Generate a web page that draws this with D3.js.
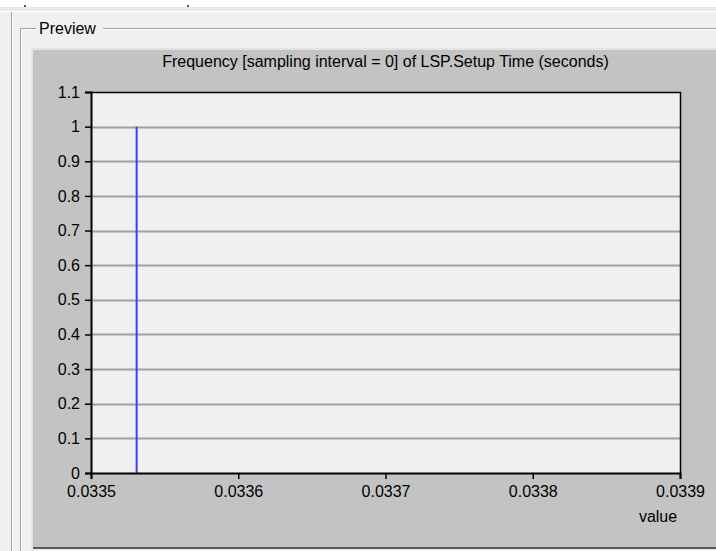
<!DOCTYPE html>
<html>
<head>
<meta charset="utf-8">
<script src="https://cdn.jsdelivr.net/npm/d3@7"></script>
<style>
  body { margin: 0; background: #f0f0f0; }
  svg { display: block; font-family: "Liberation Sans", Arial, sans-serif; }
</style>
</head>
<body>
<div id="chart"></div>
<script>
// chart values
const binValues = [0.033531];      // sampled value (seconds)
const binFrequency = [1];          // frequency of that value
const xTicks = [0.0335, 0.0336, 0.0337, 0.0338, 0.0339];
const xTickLabels = ["0.0335", "0.0336", "0.0337", "0.0338", "0.0339"];
const yTicks = [0, 0.1, 0.2, 0.3, 0.4, 0.5, 0.6, 0.7, 0.8, 0.9, 1, 1.1];
const yTickLabels = ["0", "0.1", "0.2", "0.3", "0.4", "0.5", "0.6", "0.7", "0.8", "0.9", "1", "1.1"];
const titleText = "Frequency [sampling interval = 0] of LSP.Setup Time (seconds)";

const W = 716, H = 551;
const plot = { left: 91, top: 92, right: 680, bottom: 473 };
const fontSize = "16px";

const svg = d3.select("#chart")
  .append("svg")
  .attr("width", W)
  .attr("height", H);

/* WINDOW FRAME */
svg.append("rect").attr("x", 0).attr("y", 0).attr("width", W).attr("height", 7).attr("fill", "#ffffff");
svg.append("rect").attr("x", 0).attr("y", 7).attr("width", W).attr("height", 4).attr("fill", "#e9e9e9");
svg.append("rect").attr("x", 0).attr("y", 11).attr("width", W).attr("height", 1).attr("fill", "#ffffff");

// little marks at the top edge
svg.append("rect").attr("x", 24).attr("y", 5).attr("width", 2).attr("height", 2).attr("fill", "#555");
svg.append("rect").attr("x", 187).attr("y", 5).attr("width", 2).attr("height", 2).attr("fill", "#555");

// outer panel line
svg.append("line").attr("x1", 11.5).attr("y1", 12).attr("x2", 11.5).attr("y2", H).attr("stroke", "#a0a0a0");
svg.append("line").attr("x1", 12.5).attr("y1", 12).attr("x2", 12.5).attr("y2", H).attr("stroke", "#ffffff");

// group box (etched)
svg.append("path")
  .attr("d", `M36,28.5 H20.5 V${H} M103,28.5 H${W}`)
  .attr("fill", "none").attr("stroke", "#a0a0a0");
svg.append("path")
  .attr("d", `M36,29.5 H21.5 V${H} M103,29.5 H${W}`)
  .attr("fill", "none").attr("stroke", "#ffffff");
svg.append("text")
  .attr("x", 39).attr("y", 34)
  .attr("font-size", fontSize)
  .attr("fill", "#000")
  .text("Preview");

// gray chart panel
svg.append("rect").attr("x", 31).attr("y", 48).attr("width", W - 31).attr("height", 2).attr("fill", "#e3e3e3");
svg.append("rect").attr("x", 31).attr("y", 48).attr("width", 2).attr("height", H - 48).attr("fill", "#e3e3e3");
svg.append("rect").attr("x", 33).attr("y", 50).attr("width", W - 33).attr("height", 497).attr("fill", "#c3c3c3");
svg.append("rect").attr("x", 33).attr("y", 547).attr("width", W - 33).attr("height", 2).attr("fill", "#5a5a5a");

/* SCALES */
const xScale = d3.scaleLinear()
  .domain([xTicks[0], xTicks[xTicks.length - 1]])
  .range([plot.left, plot.right]);

const yScale = d3.scaleLinear()
  .domain([0, 1.1])
  .range([plot.bottom, plot.top]);

// plot background
svg.append("rect")
  .attr("x", plot.left).attr("y", plot.top)
  .attr("width", plot.right - plot.left)
  .attr("height", plot.bottom - plot.top)
  .attr("fill", "#f0f0f0");

// horizontal grid
svg.append("g")
  .selectAll("line")
  .data(yTicks.slice(1, -1))
  .join("line")
  .attr("x1", plot.left).attr("x2", plot.right)
  .attr("y1", d => Math.round(yScale(d)) + 0.5)
  .attr("y2", d => Math.round(yScale(d)) + 0.5)
  .attr("stroke", "#a0a0a0")
  .attr("stroke-width", 2);

// top and right border
svg.append("path")
  .attr("d", `M${plot.left},${plot.top + 0.5} H${plot.right + 0.5} V${plot.bottom}`)
  .attr("fill", "none")
  .attr("stroke", "#000")
  .attr("stroke-width", 1.5);

/* BARS (frequency lines) */
svg.append("g")
  .selectAll("line")
  .data(binValues)
  .join("line")
  .attr("x1", d => xScale(d)).attr("x2", d => xScale(d))
  .attr("y1", yScale(0))
  .attr("y2", (d, i) => yScale(binFrequency[i]))
  .attr("stroke", "#3c3cff")
  .attr("stroke-width", 2);

/* AXES */
const yAxis = d3.axisLeft(yScale)
  .tickValues(yTicks)
  .tickFormat((d, i) => yTickLabels[i])
  .tickSizeOuter(0)
  .tickSize(6)
  .tickPadding(5);

const xAxis = d3.axisBottom(xScale)
  .tickValues(xTicks)
  .tickFormat((d, i) => xTickLabels[i])
  .tickSizeOuter(0)
  .tickSize(6)
  .tickPadding(7);

const gy = svg.append("g")
  .attr("transform", `translate(${plot.left},0)`)
  .call(yAxis);

const gx = svg.append("g")
  .attr("transform", `translate(0,${plot.bottom})`)
  .call(xAxis);

[gx, gy].forEach(g => {
  g.selectAll("text").attr("font-size", fontSize).attr("font-family", "Liberation Sans, Arial, sans-serif").attr("fill", "#000");
  g.select(".domain").attr("stroke", "#000").attr("stroke-width", 2);
  g.selectAll(".tick line").attr("stroke", "#000").attr("stroke-width", 1.5);
});

/* LABELS */
svg.append("text")
  .attr("x", (plot.left + plot.right) / 2)
  .attr("y", 67)
  .attr("text-anchor", "middle")
  .attr("font-size", fontSize)
  .attr("fill", "#000")
  .text(titleText);

svg.append("text")
  .attr("x", 658)
  .attr("y", 522)
  .attr("text-anchor", "middle")
  .attr("font-size", fontSize)
  .attr("fill", "#000")
  .text("value");
</script>
</body>
</html>
